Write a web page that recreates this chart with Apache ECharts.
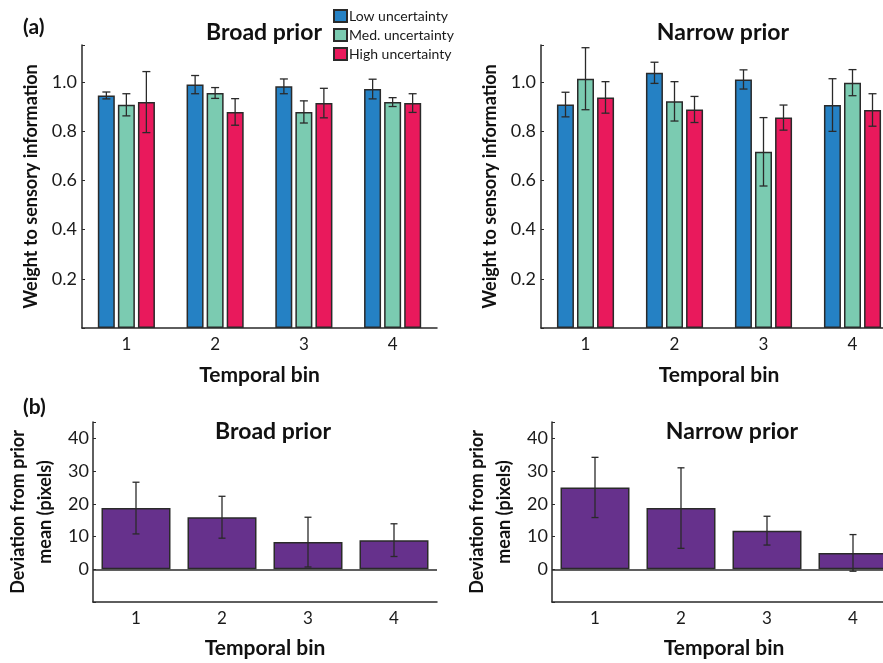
<!DOCTYPE html>
<html>
<head>
<meta charset="utf-8">
<script src="https://cdn.jsdelivr.net/npm/echarts@6/dist/echarts.min.js"></script>
<style>
  html, body { margin: 0; padding: 0; background: #fff; }
  #main { width: 883px; height: 663px; }
</style>
</head>
<body>
<div id="main"></div>
<script>
'use strict';

// categories and series
var bins = ['1', '2', '3', '4'];
var groupNames = ['Low uncertainty', 'Med. uncertainty', 'High uncertainty'];

// (a) weight to sensory information, mean and +/- error
var broadLow = [0.945, 0.989, 0.982, 0.971];
var broadLowErr = [0.014, 0.037, 0.030, 0.040];
var broadMed = [0.907, 0.955, 0.878, 0.918];
var broadMedErr = [0.045, 0.022, 0.045, 0.018];
var broadHigh = [0.918, 0.878, 0.914, 0.914];
var broadHighErr = [0.124, 0.054, 0.060, 0.038];

var narrowLow = [0.908, 1.037, 1.010, 0.906];
var narrowLowErr = [0.050, 0.043, 0.039, 0.107];
var narrowMed = [1.013, 0.921, 0.716, 0.997];
var narrowMedErr = [0.126, 0.080, 0.139, 0.053];
var narrowHigh = [0.937, 0.888, 0.855, 0.886];
var narrowHighErr = [0.064, 0.053, 0.051, 0.066];

// (b) deviation from prior mean (pixels)
var devBroad = [18.7, 15.9, 8.3, 8.9];
var devBroadErr = [7.9, 6.4, 7.6, 5.0];
var devNarrow = [25.0, 18.7, 11.8, 5.0];
var devNarrowErr = [9.2, 12.3, 4.4, 5.6];

var colors = ['#2581c4', '#7bcbb1', '#e9195c'];
var purple = '#66318c';
var ink = '#2a2a2a';
var font = 'Lato, "Open Sans", sans-serif';

var myChart = echarts.init(document.getElementById('main'));

function errData(means, errs) {
    return means.map(function (m, i) { return [i, m, errs[i]]; });
}

// draws a vertical error bar with caps, shifted sideways to sit on its bar
function errRender(offset, cap) {
    return function (params, api) {
        var c = api.value(0), m = api.value(1), e = api.value(2);
        var top = api.coord([c, m + e]);
        var bot = api.coord([c, m - e]);
        var x = top[0] + offset;
        var st = { stroke: ink, lineWidth: 1.3 };
        return {
            type: 'group',
            children: [
                { type: 'line', shape: { x1: x, y1: top[1], x2: x, y2: bot[1] }, style: st },
                { type: 'line', shape: { x1: x - cap, y1: top[1], x2: x + cap, y2: top[1] }, style: st },
                { type: 'line', shape: { x1: x - cap, y1: bot[1], x2: x + cap, y2: bot[1] }, style: st }
            ]
        };
    };
}

function xAx(idx) {
    return {
        type: 'category', gridIndex: idx, data: bins,
        name: 'Temporal bin', nameLocation: 'middle', nameGap: idx < 2 ? 37 : 36,
        nameTextStyle: { fontFamily: font, fontSize: 21, fontWeight: 'bold', color: '#111' },
        axisLine: { onZero: false, lineStyle: { color: ink, width: 1.5 } },
        axisTick: { show: false },
        axisLabel: { fontFamily: font, fontSize: 17, color: '#1a1a1a', margin: 8 }
    };
}

function weightAxis(idx) {
    return {
        type: 'value', gridIndex: idx, min: 0, max: 1.15, interval: 0.2,
        name: 'Weight to sensory information', nameLocation: 'middle', nameGap: 42,
        nameTextStyle: { fontFamily: font, fontSize: 18, fontWeight: 'bold', color: '#111' },
        axisLine: { show: true, lineStyle: { color: ink, width: 1.5 } },
        axisTick: { show: true, inside: true, length: 3, lineStyle: { color: ink } },
        splitLine: { show: false },
        axisLabel: {
            fontFamily: font, fontSize: 18, color: '#1a1a1a', margin: 5,
            formatter: function (v) {
                var k = Math.round(v * 5);
                return (k > 0 && k <= 5 && Math.abs(v * 5 - k) < 1e-6) ? v.toFixed(1) : '';
            }
        }
    };
}

function devAxis(idx) {
    return {
        type: 'value', gridIndex: idx, min: -10, max: 45, interval: 10,
        name: 'Deviation from prior\nmean (pixels)', nameLocation: 'middle', nameGap: 34,
        nameTextStyle: { fontFamily: font, fontSize: 18, fontWeight: 'bold', color: '#111', lineHeight: 27 },
        axisLine: { show: true, lineStyle: { color: ink, width: 1.5 } },
        axisTick: { show: true, inside: true, length: 3, lineStyle: { color: ink } },
        splitLine: { show: false },
        axisLabel: {
            fontFamily: font, fontSize: 18, color: '#1a1a1a', margin: 4,
            formatter: function (v) { return (v >= 0 && v <= 40 && v % 10 === 0) ? String(v) : ''; }
        }
    };
}

var series = [];
var panelA = [
    [broadLow, broadMed, broadHigh, broadLowErr, broadMedErr, broadHighErr],
    [narrowLow, narrowMed, narrowHigh, narrowLowErr, narrowMedErr, narrowHighErr]
];
var offsets = [-20, 0, 20];
panelA.forEach(function (p, g) {
    for (var k = 0; k < 3; k++) {
        series.push({
            name: groupNames[k], type: 'bar', xAxisIndex: g, yAxisIndex: g,
            data: p[k], barWidth: 17, barGap: '18%',
            itemStyle: { color: colors[k], borderColor: ink, borderWidth: 1.5 }
        });
    }
    for (var j = 0; j < 3; j++) {
        series.push({
            type: 'custom', xAxisIndex: g, yAxisIndex: g, z: 5,
            data: errData(p[j], p[j + 3]),
            encode: { x: 0, y: 1 },
            renderItem: errRender(offsets[j], 4)
        });
    }
});

[[devBroad, devBroadErr], [devNarrow, devNarrowErr]].forEach(function (p, i) {
    var g = i + 2;
    series.push({
        type: 'bar', xAxisIndex: g, yAxisIndex: g, data: p[0], barWidth: 69,
        itemStyle: { color: purple, borderColor: ink, borderWidth: 1.5 },
        markLine: {
            silent: true, symbol: 'none', label: { show: false },
            lineStyle: { color: ink, width: 1.5, type: 'solid' },
            data: [{ yAxis: 0 }]
        }
    });
    series.push({
        type: 'custom', xAxisIndex: g, yAxisIndex: g, z: 5,
        data: errData(p[0], p[1]),
        encode: { x: 0, y: 1 },
        renderItem: errRender(0, 3.5)
    });
});

var titleStyle = { fontFamily: font, fontSize: 23, fontWeight: 'bold', color: '#111' };
var tagStyle = { fontFamily: font, fontSize: 21, fontWeight: 'bold', color: '#111' };

var option = {
    animation: false,
    backgroundColor: '#fff',
    title: [
        { text: '(a)', left: 18, top: 12, textStyle: tagStyle },
        { text: '(b)', left: 18, top: 392, textStyle: tagStyle },
        { text: 'Broad prior', left: 259, top: 16, textAlign: 'center', textStyle: titleStyle },
        { text: 'Narrow prior', left: 718, top: 16, textAlign: 'center', textStyle: titleStyle },
        { text: 'Broad prior', left: 268, top: 415, textAlign: 'center', textStyle: titleStyle },
        { text: 'Narrow prior', left: 727, top: 415, textAlign: 'center', textStyle: titleStyle }
    ],
    legend: {
        data: groupNames, orient: 'vertical', left: 333, top: 9, padding: 0,
        itemWidth: 13, itemHeight: 12, itemGap: 5, icon: 'rect',
        textStyle: { fontFamily: font, fontSize: 14, color: '#1a1a1a', padding: [0, 0, 0, -3] }
    },
    grid: [
        { left: 82, top: 45, width: 355, height: 283, outerBoundsMode: 'none', containLabel: false },
        { left: 541, top: 45, width: 356, height: 283, outerBoundsMode: 'none', containLabel: false },
        { left: 93, top: 422, width: 344, height: 180, outerBoundsMode: 'none', containLabel: false },
        { left: 552, top: 422, width: 344, height: 180, outerBoundsMode: 'none', containLabel: false }
    ],
    xAxis: [xAx(0), xAx(1), xAx(2), xAx(3)],
    yAxis: [weightAxis(0), weightAxis(1), devAxis(2), devAxis(3)],
    series: series
};

myChart.setOption(option);
</script>
</body>
</html>
